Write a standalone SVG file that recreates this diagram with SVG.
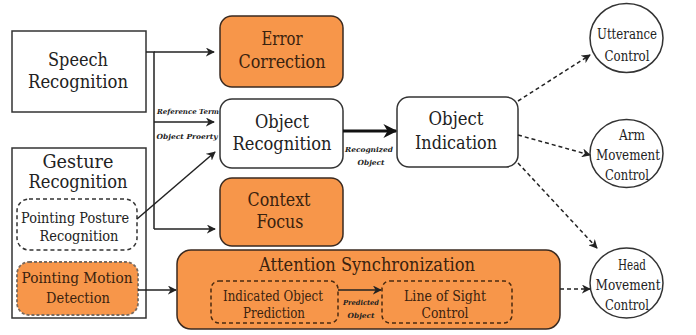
<svg xmlns="http://www.w3.org/2000/svg" width="696" height="335" viewBox="0 0 696 335">
  <defs>
    <marker id="arr" viewBox="0 0 10 10" refX="9" refY="5" markerWidth="9" markerHeight="9" markerUnits="userSpaceOnUse" orient="auto">
      <path d="M0,0 L10,5 L0,10 L3,5 z" fill="#222"/>
    </marker>
    <marker id="arrBig" viewBox="0 0 10 10" refX="9" refY="5" markerWidth="18" markerHeight="14" markerUnits="userSpaceOnUse" orient="auto">
      <path d="M0,0 L10,5 L0,10 L3,5 z" fill="#111"/>
    </marker>
    <style>
      text { text-anchor: middle; fill: #222; }
      .big { font-size: 18.5px; font-family: "DejaVu Serif", "Liberation Serif", serif; }
      .mid { font-size: 15px; font-family: "DejaVu Serif", "Liberation Serif", serif; }
      .ell { font-size: 14px; font-family: "DejaVu Serif", "Liberation Serif", serif; }
      .lbl { font-size: 7px; font-style: italic; font-weight: bold; font-family: "DejaVu Serif", "Liberation Serif", serif; }
      .otxt { fill: #3a220f; }
      .plain { fill: #fff; stroke: #333; stroke-width: 1.5; }
      .orange { fill: #f7964a; stroke: #3a2a20; stroke-width: 1.5; }
      .dash { fill: none; stroke: #333; stroke-width: 1.5; stroke-dasharray: 4 3; }
      .odash { fill: none; stroke: #4a2a10; stroke-width: 1.5; stroke-dasharray: 4 3; }
      .edge { fill: none; stroke: #222; stroke-width: 1.5; }
      .dedge { fill: none; stroke: #222; stroke-width: 1.5; stroke-dasharray: 4 3; }
    </style>
  </defs>

  <g id="speech-recognition">
    <rect class="plain" x="12" y="31" width="134" height="81"/>
    <text class="big" x="78" y="66" textLength="60" lengthAdjust="spacingAndGlyphs">Speech</text>
    <text class="big" x="78" y="88" textLength="100" lengthAdjust="spacingAndGlyphs">Recognition</text>
  </g>

  <g id="gesture-recognition">
    <rect class="plain" x="12" y="148" width="134" height="170"/>
    <text class="big" x="78" y="168" textLength="71" lengthAdjust="spacingAndGlyphs">Gesture</text>
    <text class="big" x="78" y="188" textLength="99" lengthAdjust="spacingAndGlyphs">Recognition</text>
  </g>

  <g id="pointing-posture">
    <rect class="dash" x="17" y="199" width="120" height="51" rx="12"/>
    <text class="mid" x="75" y="223" textLength="108" lengthAdjust="spacingAndGlyphs">Pointing Posture</text>
    <text class="mid" x="79" y="241" textLength="79" lengthAdjust="spacingAndGlyphs">Recognition</text>
  </g>

  <g id="pointing-motion">
    <rect x="17" y="262" width="121" height="53" rx="12" fill="#f7964a" stroke="#7a6a5e" stroke-width="1.8" stroke-dasharray="3 2"/>
    <text class="mid otxt" x="77" y="283" textLength="111" lengthAdjust="spacingAndGlyphs">Pointing Motion</text>
    <text class="mid otxt" x="78" y="303" textLength="64" lengthAdjust="spacingAndGlyphs">Detection</text>
  </g>

  <g id="error-correction">
    <rect class="orange" x="220" y="16" width="123" height="71" rx="12"/>
    <text class="big otxt" x="282" y="45" textLength="41" lengthAdjust="spacingAndGlyphs">Error</text>
    <text class="big otxt" x="282" y="68" textLength="87" lengthAdjust="spacingAndGlyphs">Correction</text>
  </g>

  <g id="object-recognition">
    <rect class="plain" x="220" y="99" width="123" height="69" rx="12"/>
    <text class="big" x="282" y="128" textLength="54" lengthAdjust="spacingAndGlyphs">Object</text>
    <text class="big" x="282" y="150" textLength="99" lengthAdjust="spacingAndGlyphs">Recognition</text>
  </g>

  <g id="context-focus">
    <rect class="orange" x="220" y="178" width="123" height="68" rx="12"/>
    <text class="big otxt" x="279" y="206" textLength="63" lengthAdjust="spacingAndGlyphs">Context</text>
    <text class="big otxt" x="280" y="228" textLength="47" lengthAdjust="spacingAndGlyphs">Focus</text>
  </g>

  <g id="object-indication">
    <rect class="plain" x="397" y="97" width="121" height="70" rx="12"/>
    <text class="big" x="456" y="125" textLength="55" lengthAdjust="spacingAndGlyphs">Object</text>
    <text class="big" x="456" y="149" textLength="82" lengthAdjust="spacingAndGlyphs">Indication</text>
  </g>

  <g id="attention-synchronization">
    <rect class="orange" x="177" y="250" width="383" height="79" rx="14"/>
    <text class="big otxt" x="367" y="271" textLength="216" lengthAdjust="spacingAndGlyphs">Attention Synchronization</text>
    <g id="indicated-object-prediction">
      <rect class="odash" x="211" y="281" width="127" height="42" rx="8"/>
      <text class="mid otxt" x="273" y="301" textLength="100" lengthAdjust="spacingAndGlyphs">Indicated Object</text>
      <text class="mid otxt" x="274" y="318" textLength="62" lengthAdjust="spacingAndGlyphs">Prediction</text>
    </g>
    <g id="line-of-sight-control">
      <rect class="odash" x="382" y="281" width="130" height="42" rx="8"/>
      <text class="mid otxt" x="445" y="301" textLength="82" lengthAdjust="spacingAndGlyphs">Line of Sight</text>
      <text class="mid otxt" x="445" y="318" textLength="47" lengthAdjust="spacingAndGlyphs">Control</text>
    </g>
  </g>

  <g id="utterance-control">
    <ellipse class="plain" cx="626.5" cy="38" rx="36.5" ry="34.5"/>
    <text class="ell" x="627" y="39" textLength="60" lengthAdjust="spacingAndGlyphs">Utterance</text>
    <text class="ell" x="627" y="61" textLength="45" lengthAdjust="spacingAndGlyphs">Control</text>
  </g>

  <g id="arm-movement-control">
    <ellipse class="plain" cx="626.5" cy="153.5" rx="36.5" ry="34"/>
    <text class="ell" x="632" y="140" textLength="26" lengthAdjust="spacingAndGlyphs">Arm</text>
    <text class="ell" x="628" y="160" textLength="64" lengthAdjust="spacingAndGlyphs">Movement</text>
    <text class="ell" x="627" y="180" textLength="44" lengthAdjust="spacingAndGlyphs">Control</text>
  </g>

  <g id="head-movement-control">
    <ellipse class="plain" cx="626.5" cy="283" rx="36.5" ry="35"/>
    <text class="ell" x="632" y="270" textLength="28" lengthAdjust="spacingAndGlyphs">Head</text>
    <text class="ell" x="628" y="290" textLength="65" lengthAdjust="spacingAndGlyphs">Movement</text>
    <text class="ell" x="627" y="310" textLength="44" lengthAdjust="spacingAndGlyphs">Control</text>
  </g>

  <g id="connectors">
    <!-- speech recognition fan-out -->
    <path class="edge" d="M146,52 H154 V229"/>
    <path class="edge" d="M154,52 H214" marker-end="url(#arr)"/>
    <path class="edge" d="M154,122 H214" marker-end="url(#arr)"/>
    <path class="edge" d="M154,229 H215" marker-end="url(#arr)"/>
    <text class="lbl" x="188" y="114" textLength="62" lengthAdjust="spacingAndGlyphs">Reference Term</text>
    <text class="lbl" x="187" y="139" textLength="61" lengthAdjust="spacingAndGlyphs">Object Proerty</text>

    <!-- pointing posture to object recognition -->
    <path class="edge" d="M137,219 L215,152" marker-end="url(#arr)"/>

    <!-- pointing motion to attention synchronization -->
    <path class="edge" d="M138,290 H176" marker-end="url(#arr)"/>

    <!-- recognized object -->
    <path fill="none" stroke="#111" stroke-width="3" d="M343,131 H396" marker-end="url(#arrBig)"/>
    <text class="lbl" x="369" y="152" textLength="48" lengthAdjust="spacingAndGlyphs">Recognized</text>
    <text class="lbl" x="371" y="165" textLength="27" lengthAdjust="spacingAndGlyphs">Object</text>

    <!-- predicted object -->
    <path class="edge" d="M338,290 H381" marker-end="url(#arr)"/>
    <text class="lbl" x="361" y="305" textLength="36" lengthAdjust="spacingAndGlyphs">Predicted</text>
    <text class="lbl" x="361" y="318" textLength="27" lengthAdjust="spacingAndGlyphs">Object</text>

    <!-- outputs -->
    <path class="dedge" d="M518,101 L590,55" marker-end="url(#arr)"/>
    <path class="dedge" d="M518,135 L590,155" marker-end="url(#arr)"/>
    <path class="dedge" d="M518,163 L597,248" marker-end="url(#arr)"/>
    <path class="dedge" d="M560,289 H590" marker-end="url(#arr)"/>
  </g>
</svg>
